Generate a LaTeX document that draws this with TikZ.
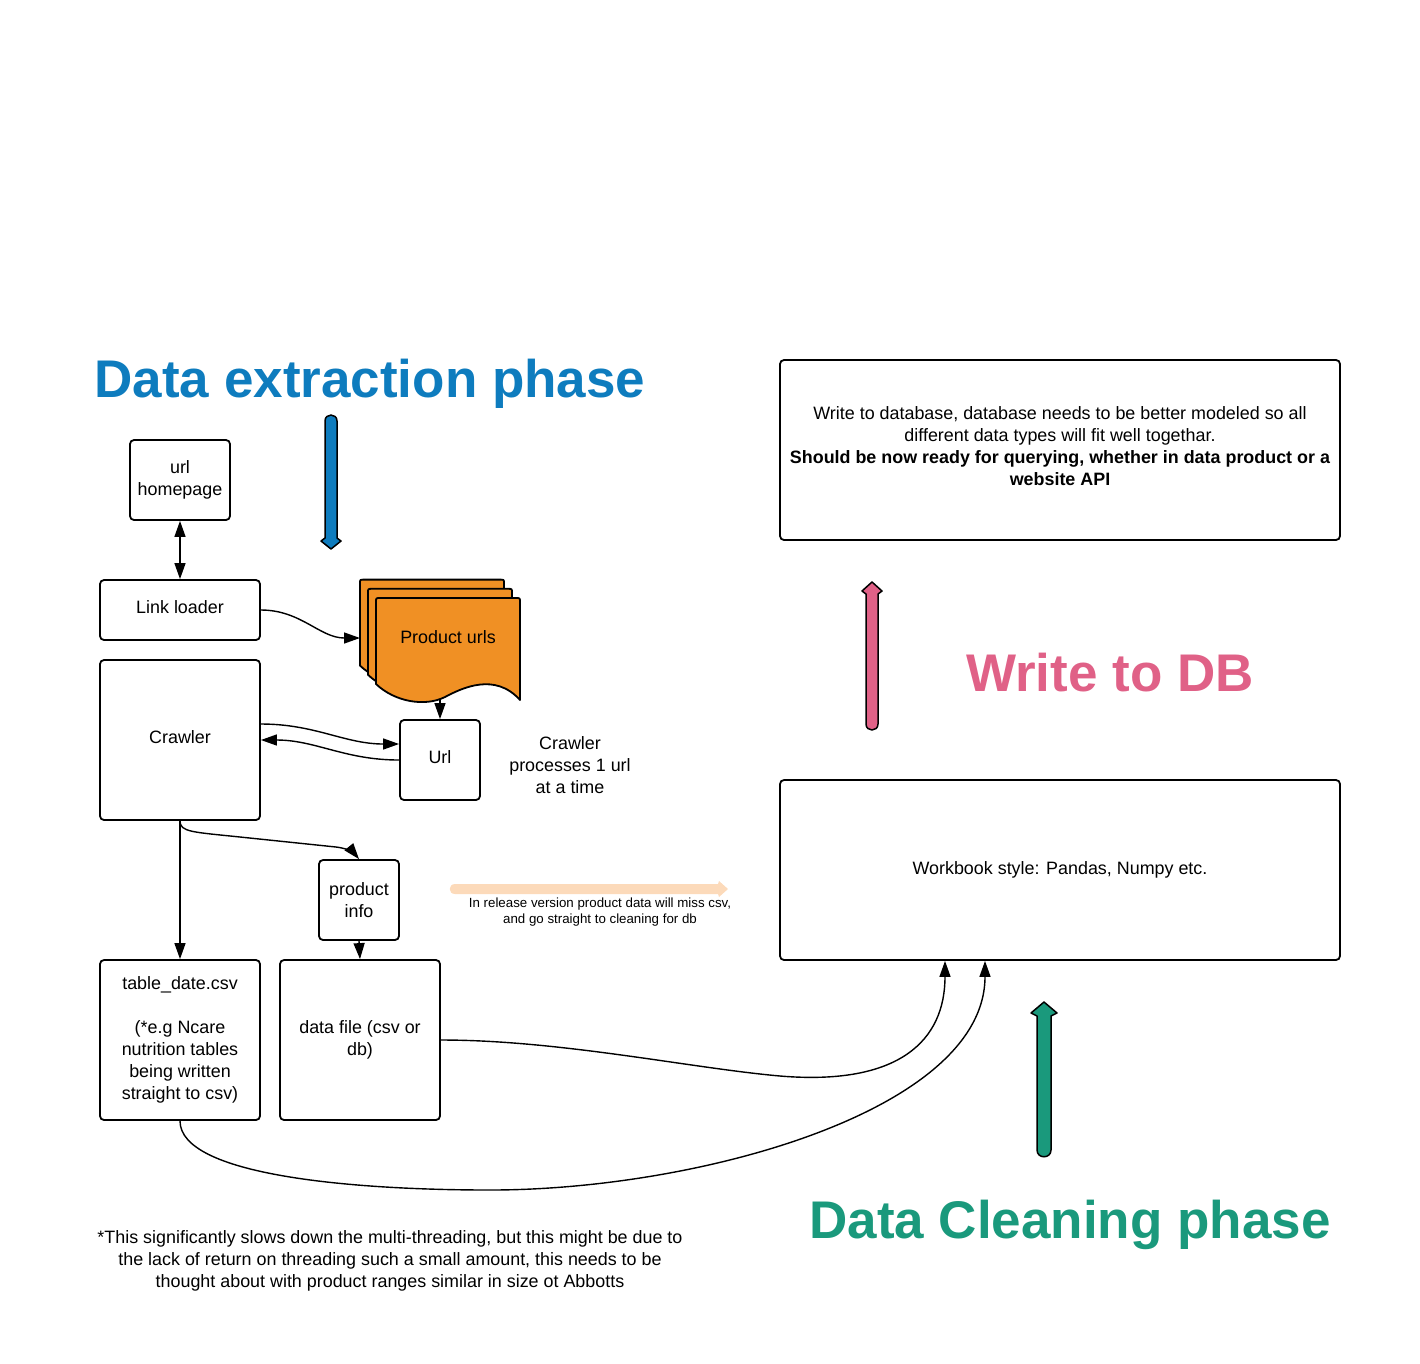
\documentclass[tikz,border=0pt]{standalone}
\usepackage{fontspec}
\setmainfont{Liberation Sans}
\usetikzlibrary{arrows.meta,positioning}

\definecolor{extblue}{RGB}{14,124,190}
\definecolor{dbpink}{RGB}{224,97,135}
\definecolor{cleangreen}{RGB}{26,153,124}
\definecolor{urlorange}{RGB}{240,144,36}
\definecolor{notepeach}{RGB}{252,218,186}

\tikzset{
  >={Triangle[length=16pt,width=11pt]},
  box/.style={draw, line width=1.8pt, rounded corners=4pt, align=center,
    font=\fontsize{17.9}{22}\selectfont, inner sep=2pt},
  link/.style={line width=1.4pt},
  note/.style={align=center, font=\fontsize{17.9}{22}\selectfont},
  phase/.style={anchor=base, font=\fontsize{53}{60}\selectfont\bfseries},
  fat/.style={line width=1.5pt, line join=round},
}

\begin{document}
\begin{tikzpicture}[x=1pt,y=-1pt]
    \useasboundingbox (0,0) rectangle (1420,1363);

    % phase titles
    \node[phase, text=extblue] (exttitle) at (370,397) {Data extraction phase};
    \node[phase, text=dbpink] (dbtitle) at (1110,691) {Write to DB};
    \node[phase, text=cleangreen] (cleantitle) at (1070,1238) {Data Cleaning phase};

    % phase arrows
    \draw[fat, fill=extblue] (325,538) -- (325,421) .. controls (325,413) and (337,413) .. (337,421)
        -- (337,538) -- (341,541) -- (331,549) -- (321,541) -- cycle;
    \draw[fat, fill=dbpink] (866,594) -- (866,724) .. controls (866,732) and (878,732) .. (878,724)
        -- (878,594) -- (882,591) -- (872,582) -- (862,591) -- cycle;
    \draw[fat, fill=cleangreen] (1037,1016) -- (1037,1150) .. controls (1037,1159) and (1051,1159) .. (1051,1150)
        -- (1051,1016) -- (1057,1013) -- (1044,1002) -- (1031,1013) -- cycle;

    % extraction boxes
    \node[box, minimum width=100pt, minimum height=80pt] (home) at (180,480) {url\\homepage};
    \node[box, minimum width=160pt, minimum height=60pt, text depth=6pt] (loader) at (180,610) {Link loader};
    \node[box, minimum width=160pt, minimum height=160pt, text depth=6pt] (crawler) at (180,740) {Crawler};
    \node[box, minimum width=80pt, minimum height=80pt, text depth=6pt] (url) at (440,760) {Url};
    \node[box, minimum width=80pt, minimum height=80pt] (info) at (359,900) {product\\info};
    \node[box, minimum width=160pt, minimum height=160pt] (table) at (180,1040)
        {table\_date.csv\\[22pt](*e.g Ncare\\nutrition tables\\being written\\straight to csv)};
    \node[box, minimum width=160pt, minimum height=160pt] (datafile) at (360,1040) {data file (csv or\\db)};

    % stack of product urls
    \foreach \d in {16,8,0}
        \draw[line width=1.8pt, line join=round, fill=urlorange, shift={(-\d,-1.15*\d)}]
            (376,684) -- (376,602) .. controls (376,598) .. (380,598) -- (516,598) .. controls (520,598) .. (520,602)
            -- (520,700) .. controls (495,672) and (462,688) .. (445,697) .. controls (425,707) and (395,702) .. (376,684) -- cycle;
    \node[note] (urls) at (448,637) {Product urls};
    \coordinate (urlsin) at (360,638);
    \coordinate (urlsout) at (440,700);

    % cleaning and db boxes
    \node[box, minimum width=560pt, minimum height=180pt, text depth=8pt] (dbbox) at (1060,450)
        {Write to database, database needs to be better modeled so all\\different data types will fit well togethar.\\
         \textbf{Should be now ready for querying, whether in data product or a}\\\textbf{website API}};
    \node[box, minimum width=560pt, minimum height=180pt] (workbook) at (1060,870) {Workbook style: Pandas, Numpy etc.};

    % notes
    \node[note] (crawlnote) at (570,765) {Crawler\\processes 1 url\\at a time};
    \fill[notepeach] (718,884) -- (455,884) .. controls (448,884) and (448,894) .. (455,894)
        -- (718,894) -- (719,897) -- (728,889) -- (719,881) -- cycle;
    \node[note, font=\fontsize{13.3}{16}\selectfont] (releasenote) at (600,912)
        {In release version product data will miss csv,\\and go straight to cleaning for db};
    \node[note] (footnote) at (390,1261)
        {*This significantly slows down the multi-threading, but this might be due to\\
         the lack of return on threading such a small amount, this needs to be\\
         thought about with product ranges similar in size ot Abbotts};

    % connectors
    \draw[link, <->] (home) -- (loader);
    \draw[link, ->] (loader.east) to[out=0,in=180] (urlsin);
    \draw[link, ->] (urlsout) -- (url.north);
    \draw[link, ->] ([yshift=16pt]crawler.east) to[out=0,in=180] ([yshift=16pt]url.west);
    \draw[link, ->] (url.west) to[out=180,in=0] (crawler.east);
    \draw[link, ->] (crawler.south) .. controls (180,832) and (192,832) .. (240,837) -- (336,847)
        .. controls (346,848) and (354,853) .. (info.north);
    \draw[link, ->] (crawler.south) -- (table.north);
    \draw[link, ->] (info.south) -- (datafile.north);
    \draw[link, ->] (datafile.east) .. controls (560,1040) and (690,1068) .. (780,1076)
        .. controls (900,1086) and (945,1040) .. ([xshift=-115pt]workbook.south);
    \draw[link, ->] (table.south) .. controls (180,1175) and (350,1190) .. (490,1190)
        .. controls (700,1190) and (985,1110) .. ([xshift=-75pt]workbook.south);
\end{tikzpicture}
\end{document}
